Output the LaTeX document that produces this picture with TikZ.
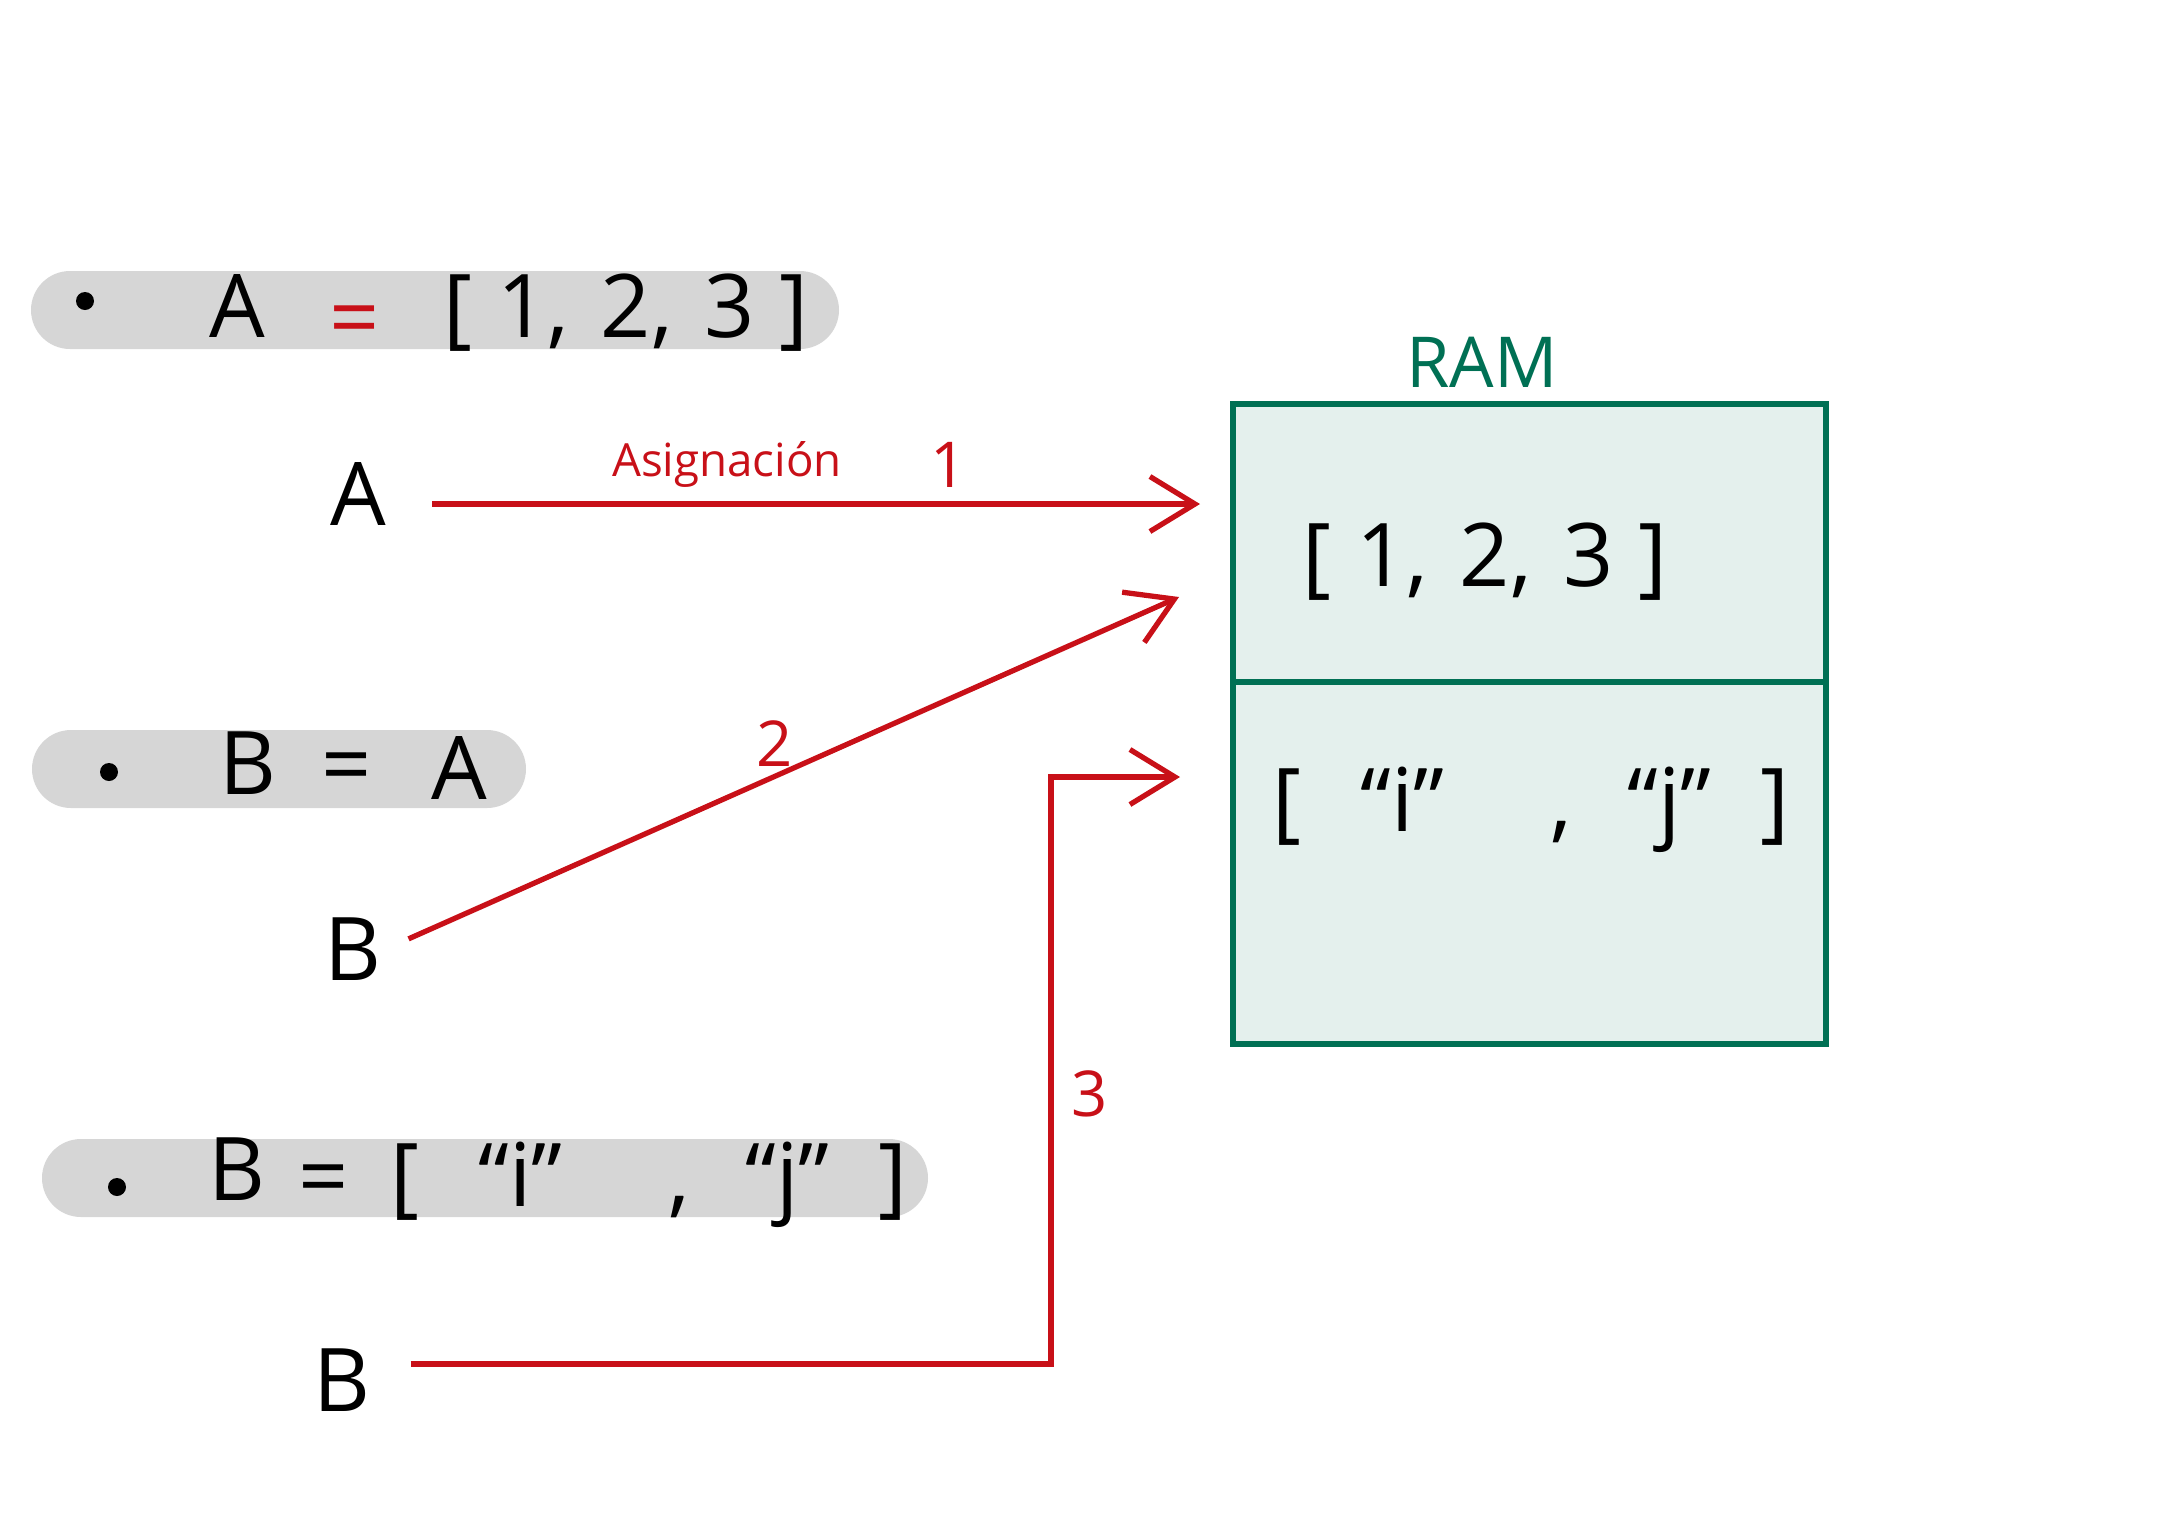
\documentclass[tikz,border=0pt]{standalone}
\usepackage{fontspec}
\setmainfont{Open Sans}
\usetikzlibrary{arrows.meta,positioning,calc}
\definecolor{PillGray}{RGB}{214,214,214}
\definecolor{Pen}{RGB}{200,16,24}
\definecolor{RamGreen}{RGB}{0,112,84}
\definecolor{RamBg}{RGB}{228,240,237}
\newcommand{\numlist}{[\hspace{7pt}1,\hspace{9pt}2,\hspace{9pt}3\hspace{7pt}]}
\newcommand{\strlist}{[\hspace{17pt}“i”\hspace{30pt},\hspace{16pt}“j”\hspace{14pt}]}
\tikzset{
  pill/.style={rectangle,rounded corners=0.39cm,fill=PillGray,minimum height=0.78cm,inner sep=0pt},
  hand/.style={font=\fontsize{25}{30}\selectfont,inner sep=1pt,text=black},
  dot/.style={circle,fill=black,inner sep=0pt,minimum size=0.18cm},
  note/.style={font=\fontsize{13}{16}\selectfont,text=Pen,inner sep=1pt},
  num/.style={note,font=\fontsize{18}{20}\selectfont},
  cell/.style={rectangle,draw=RamGreen,fill=RamBg,line width=1.6pt,outer sep=0pt},
  ptr/.style={Pen,line width=1.5pt,-{Straight Barb[length=0.45cm,width=0.55cm]}},
}

\begin{document}
\begin{tikzpicture}[x=1cm,y=-1cm]
    \useasboundingbox (0,0) rectangle (21.82,15.38);
    % statements
    \node[pill,minimum width=8.08cm] (st1) at (4.35,3.10) {};
    \node[dot] (st1dot) at (0.85,3.01) {};
    \node[hand] (st1var) at (2.37,3.06) {A};
    \node[hand,text=Pen] (st1eq) at (3.55,3.27) {=};
    \node[hand] (st1val) at (6.26,3.13) {\numlist};

    \node[pill,minimum width=4.94cm] (st2) at (2.79,7.69) {};
    \node[dot] (st2dot) at (1.09,7.72) {};
    \node[hand] (st2var) at (2.48,7.63) {B};
    \node[hand] (st2eq) at (3.47,7.74) {=};
    \node[hand] (st2val) at (4.59,7.68) {A};

    \node[pill,minimum width=8.86cm] (st3) at (4.85,11.78) {};
    \node[dot] (st3dot) at (1.17,11.87) {};
    \node[hand] (st3var) at (2.37,11.69) {B};
    \node[hand] (st3eq) at (3.24,11.86) {=};
    \node[hand] (st3val) at (6.49,11.85) {\strlist};

    % memory
    \node[cell,minimum width=5.93cm,minimum height=2.78cm] (top) at (15.295,5.43) {};
    \node[cell,minimum width=5.93cm,minimum height=3.62cm,below=0pt of top] (bot) {};
    \node[hand,text=RamGreen,font=\fontsize{20}{24}\selectfont] (ram) at (14.82,3.62) {RAM};
    \node[hand] (topval) at (14.85,5.62) {\numlist};
    \node[hand] (botval) at (15.31,8.10) {\strlist};

    % variables
    \node[hand] (aVar) at (3.58,4.94) {A};
    \node[hand] (bVar) at (3.53,9.49) {B};
    \node[hand] (cVar) at (3.42,13.80) {B};
    \coordinate (tip1) at (12.00,5.04);
    \coordinate (tip2) at (11.79,5.97);
    \coordinate (tip3) at (11.80,7.77);
    \coordinate (bend3) at (10.51,13.64);

    \draw[ptr,shorten <=0.42cm] (aVar.east |- tip1) -- node[note,above=3pt,pos=0.416] (lblAsig) {Asignación}
        node[num,above=3pt,pos=0.69] (lbl1) {1} (tip1);
    \draw[ptr,shorten <=0.25cm] (bVar.east) -- node[num,above=1pt,pos=0.49] (lbl2) {2} (tip2);
    \draw[ptr,shorten <=0.36cm] (cVar.east |- bend3) -- (bend3) |- node[num,right=4pt,pos=0.23] (lbl3) {3} (tip3);
\end{tikzpicture}
\end{document}
